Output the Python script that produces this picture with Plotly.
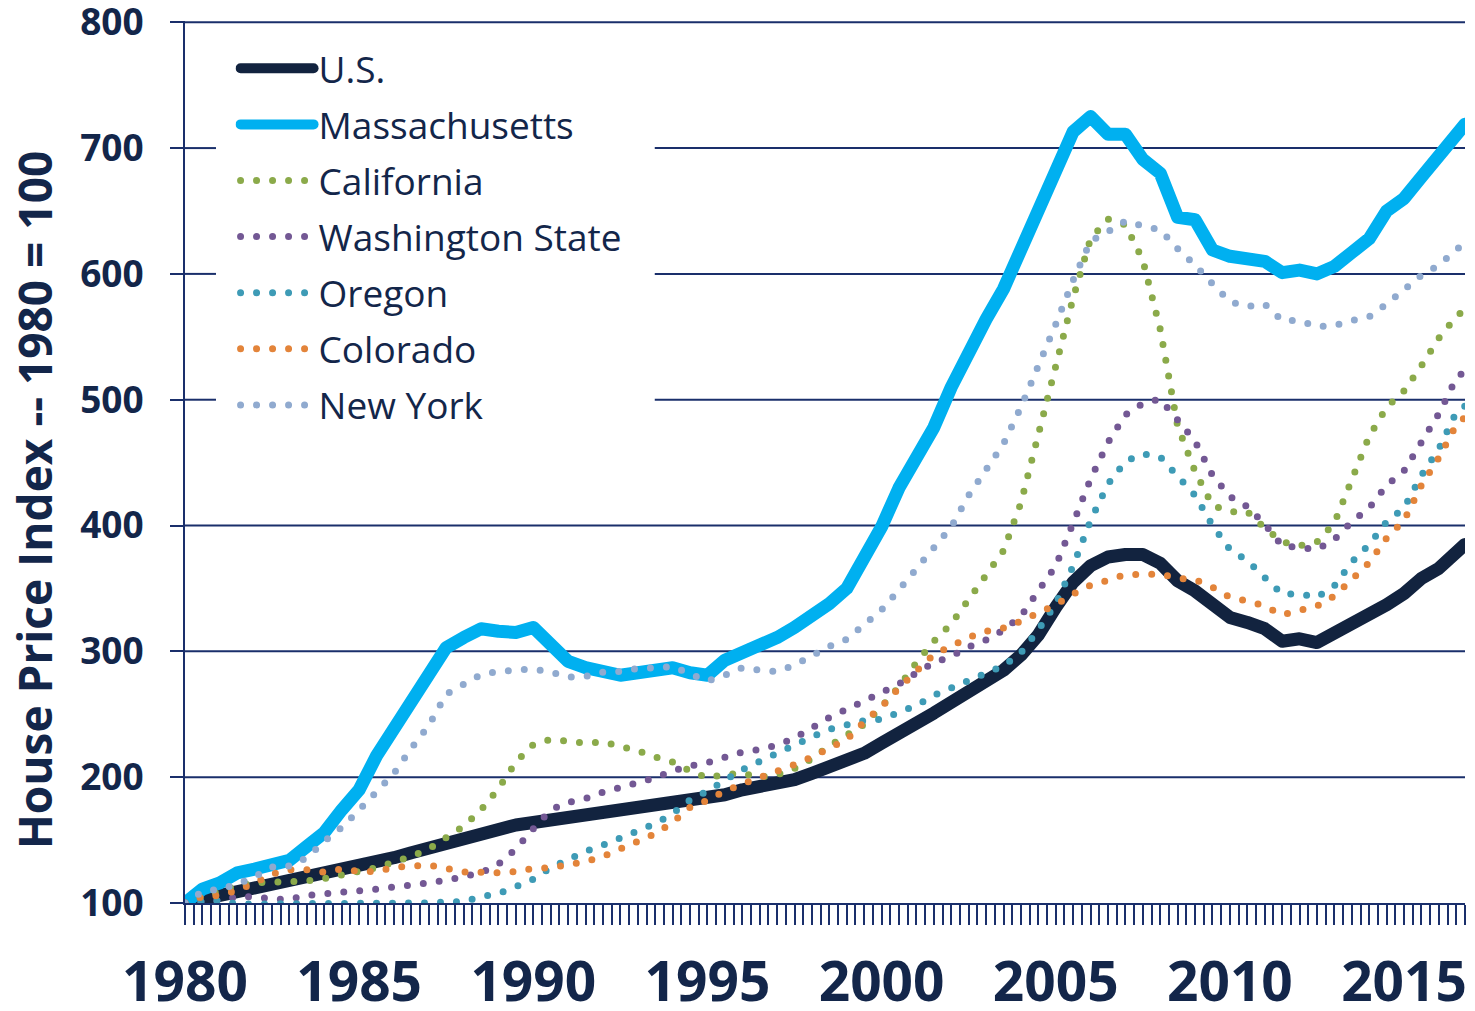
import plotly.graph_objects as go

# Half-year sample points (decimal years)
years = [1980.0, 1980.5, 1981.0, 1981.5, 1982.0, 1982.5, 1983.0, 1983.5, 1984.0, 1984.5,
         1985.0, 1985.5, 1986.0, 1986.5, 1987.0, 1987.5, 1988.0, 1988.5, 1989.0, 1989.5,
         1990.0, 1990.5, 1991.0, 1991.5, 1992.0, 1992.5, 1993.0, 1993.5, 1994.0, 1994.5,
         1995.0, 1995.5, 1996.0, 1996.5, 1997.0, 1997.5, 1998.0, 1998.5, 1999.0, 1999.5,
         2000.0, 2000.5, 2001.0, 2001.5, 2002.0, 2002.5, 2003.0, 2003.5, 2004.0, 2004.5,
         2005.0, 2005.5, 2006.0, 2006.5, 2007.0, 2007.5, 2008.0, 2008.5, 2009.0, 2009.5,
         2010.0, 2010.5, 2011.0, 2011.5, 2012.0, 2012.5, 2013.0, 2013.5, 2014.0, 2014.5,
         2015.0, 2015.5, 2016.0, 2016.5, 2016.75]

us = [100, 103, 106, 109, 111, 113, 116, 119, 122, 125,
      128, 132, 136, 140, 144, 148, 151, 155, 158, 162,
      164, 166, 167, 169, 171, 173, 175, 177, 179, 181,
      183, 186, 190, 192, 195, 198, 203, 208, 212, 219,
      227, 234, 243, 251, 259, 268, 276, 285, 297, 313,
      335, 355, 368, 375, 377, 377, 370, 356, 348, 336,
      327, 323, 318, 308, 310, 307, 314, 322, 330, 337,
      346, 358, 366, 377, 385]

massachusetts = [100, 111, 116, 124, 127, 130, 134, 145, 156, 174,
                 190, 217, 239, 261, 283, 303, 311, 318, 316, 315,
                 319, 305, 292, 287, 284, 281, 283, 285, 287, 283,
                 281, 293, 299, 303, 311, 319, 328, 338, 350, 375,
                 399, 430, 453, 478, 510, 540, 564, 588, 620, 655,
                 685, 713, 725, 711, 711, 691, 680, 645, 643, 619,
                 614, 611, 610, 601, 603, 600, 606, 617, 628, 650,
                 660, 677, 694, 708, 719]

california = [100, 105, 110, 114, 116, 116.5, 117, 117.5, 119.5, 122.5,
              124.5, 128, 132.5, 137, 143, 152, 161, 174, 191, 212,
              226, 230, 228.5, 227, 228, 225, 221, 216, 212, 205,
              199.5, 202, 203, 200, 202, 207, 214.5, 225, 234, 242,
              256, 272, 291, 308, 322, 342, 362, 380, 418, 474,
              527, 581, 628, 643.6, 639, 611, 556, 479, 443, 416,
              411, 411, 398, 387, 384, 387, 402, 438, 471, 494,
              507, 527, 549, 566, 572]

washington = [100, 101, 102, 105, 105, 103, 103, 106, 107, 109,
              110, 111, 112.7, 114, 116, 118, 120.5, 124, 131, 143,
              159, 174, 180, 183, 188, 191.5, 196, 199.5, 205, 209,
              211.5, 216, 220, 222, 225.5, 231, 239.5, 247.5, 254, 261,
              267.5, 274, 283, 291, 296, 303.5, 309, 317, 328, 347,
              368, 402, 437, 466, 488, 497, 500.5, 484, 467, 440,
              423, 415, 401, 384, 382, 381, 389, 403, 414, 432,
              443.5, 467, 489, 517, 523]

oregon = [100, 101, 102, 99, 99.5, 100, 99.5, 99.5, 99.5, 99.5,
          100, 99.5, 99.5, 99.5, 100, 101, 101, 105, 107.5, 113,
          119, 128, 135, 141, 146, 152, 157.5, 163, 171, 182,
          189, 198, 206, 212.5, 219.5, 226, 232, 238, 241.5, 245,
          246, 251, 257, 265, 271, 276, 282, 288.5, 299, 317,
          338, 368, 404, 433, 451, 457, 454.5, 439, 424, 400,
          381, 372, 359, 345.5, 345.6, 343, 352, 371, 385, 403,
          414, 440, 461, 490, 495]

colorado = [100, 105, 106, 110, 116, 123, 126.5, 126.5, 124.5, 127,
            125, 125, 128.5, 129, 130, 127.5, 124.6, 124.5, 124, 125,
            127.5, 128, 130, 133, 137, 143, 148.5, 155, 164, 176,
            181.5, 189, 194.5, 199.5, 204.5, 210, 216, 222.5, 230, 244,
            256, 271, 285, 297.5, 304, 311, 316, 318.5, 324, 330.5,
            337, 345.5, 352.5, 356.5, 361, 361, 361.5, 358, 357, 351,
            343, 340, 336, 329, 332.5, 336, 344, 357.5, 370.5, 390,
            404, 432, 454, 480, 486]

new_york = [100, 109, 111, 115, 121, 128.6, 129.5, 136, 149, 160,
            174, 189, 203, 223, 241, 266, 274.5, 281.5, 284, 285.5,
            286, 283.5, 279.5, 280, 283.5, 284, 286.5, 287, 288, 282,
            276.5, 281, 287, 285, 284, 289, 297, 304, 309.5, 321,
            333, 349, 366, 384, 399, 424, 444, 465, 494, 526,
            560, 595, 626, 633.5, 642, 638, 635, 620, 607, 592,
            578, 574, 576, 563, 563, 558, 559, 563, 566, 576,
            588, 599, 607, 620, 625]

series_names = ["U.S.", "Massachusetts", "California", "Washington State",
                "Oregon", "Colorado", "New York"]
series_values = [us, massachusetts, california, washington, oregon, colorado, new_york]
series_colors = ["#12233F", "#00B0F0", "#8BAA4A", "#735894", "#3E9BB6", "#E3843A", "#90AACF"]

year_labels = [1980, 1985, 1990, 1995, 2000, 2005, 2010, 2015]
y_ticks = [100, 200, 300, 400, 500, 600, 700, 800]
gridlines_behind_legend = [500, 600, 700]

NAVY_TEXT = "#13264A"
AXIS = "#1A2F6B"

fig = go.Figure()
for i, (name, vals, col) in enumerate(zip(series_names, series_values, series_colors)):
    solid = i < 2
    fig.add_trace(go.Scatter(
        x=years, y=vals, mode="lines", name=name,
        legendgroup=name,
        line=dict(color=col, width=13 if solid else 7,
                  dash="solid" if solid else "0px,16px"),
        hoverinfo="skip",
    ))

quarters = [1980 + q * 0.25 for q in range(148)]
qtext = [str(int(q)) if (q in year_labels) else "" for q in quarters]

# horizontal gridlines (the legend panel interrupts the ones it sits over)
legend_left, legend_right = 0.0242, 0.367
for v in y_ticks[1:]:
    spans = [(0, legend_left), (legend_right, 1)] if v in gridlines_behind_legend else [(0, 1)]
    for a, b in spans:
        fig.add_shape(type="line", xref="x domain", yref="y", x0=a, x1=b, y0=v, y1=v,
                      line=dict(color=AXIS, width=2), layer="below")

fig.update_layout(
    width=1475, height=1011,
    margin=dict(l=185, r=10, t=21, b=108),
    paper_bgcolor="white", plot_bgcolor="white",
    font=dict(family="Open Sans", color=NAVY_TEXT),
    xaxis=dict(
        range=[1980, 2016.75], tickmode="array", tickvals=quarters, ticktext=qtext,
        showline=True, linecolor=AXIS, linewidth=2,
        ticks="outside", ticklen=20, tickwidth=2, tickcolor=AXIS,
        showgrid=False, zeroline=False, automargin=False,
        tickfont=dict(family="Open Sans", size=55, color=NAVY_TEXT, weight="bold"),
        ticklabelstandoff=10, ticklabeloverflow="allow",
    ),
    yaxis=dict(
        range=[100, 801], tickmode="array", tickvals=y_ticks,
        showline=True, linecolor=AXIS, linewidth=2,
        showgrid=False,
        ticks="outside", ticklen=13, tickwidth=2, tickcolor=AXIS,
        zeroline=False, automargin=False,
        tickfont=dict(family="Open Sans", size=37, color=NAVY_TEXT, weight="bold"),
        ticklabelstandoff=19, ticklabeloverflow="allow",
    ),
    legend=dict(
        x=0.0395, y=0.981, xanchor="left", yanchor="top",
        bgcolor="white", borderwidth=0,
        font=dict(family="Open Sans", size=37, color=NAVY_TEXT),
        itemwidth=73, traceorder="grouped", tracegroupgap=5,
    ),
    showlegend=True,
    annotations=[dict(
        text="House Price Index -- 1980 = 100", textangle=-90,
        xref="paper", yref="paper", x=-0.1184, y=0.457,
        xanchor="center", yanchor="middle", showarrow=False,
        font=dict(family="Open Sans", size=46, color=NAVY_TEXT, weight="bold"),
    )],
)

post = ("document.body.style.margin='0';"
        "var s=document.createElement('style');"
        "s.textContent='body{margin:0}path.js-line{stroke-linecap:round;stroke-linejoin:round;}';"
        "document.head.appendChild(s);")
fig.write_html("out.html", post_script=post, config={"displayModeBar": False})
